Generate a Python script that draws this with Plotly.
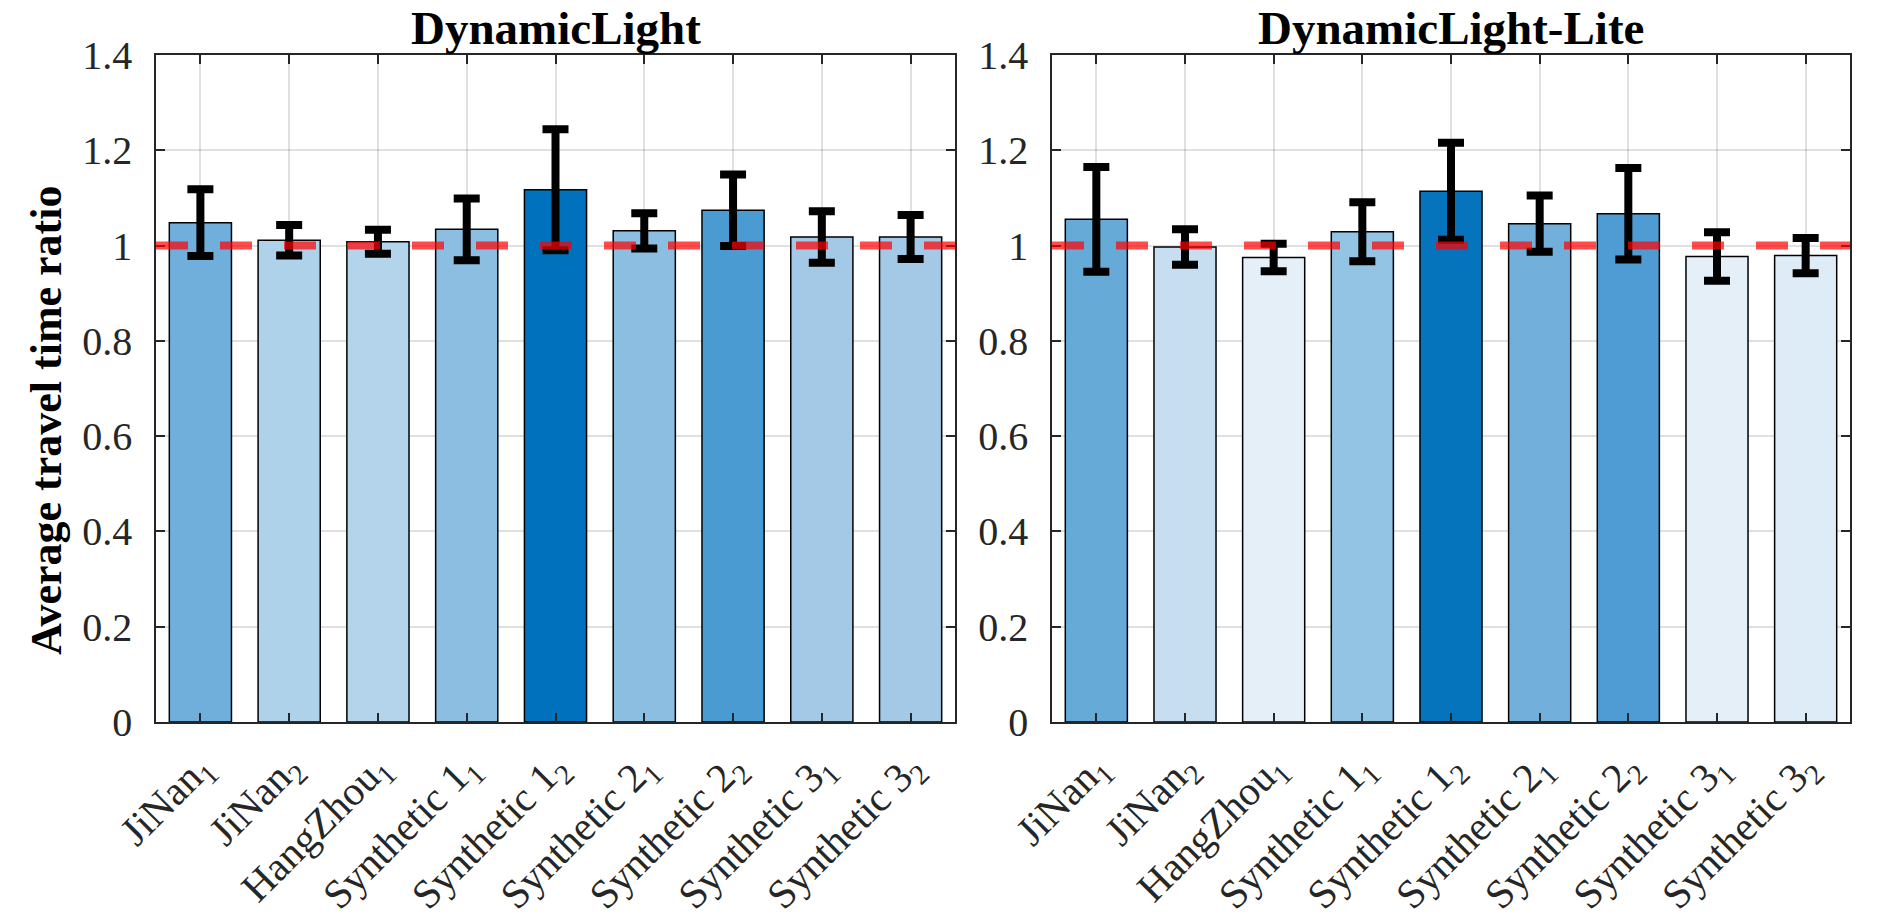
import plotly.graph_objects as go

categories = ["JiNan<sub>1</sub>", "JiNan<sub>2</sub>", "HangZhou<sub>1</sub>",
              "Synthetic 1<sub>1</sub>", "Synthetic 1<sub>2</sub>",
              "Synthetic 2<sub>1</sub>", "Synthetic 2<sub>2</sub>",
              "Synthetic 3<sub>1</sub>", "Synthetic 3<sub>2</sub>"]

dl_mean = [1.048, 1.011, 1.008, 1.034, 1.117, 1.031, 1.074, 1.018, 1.018]
dl_err = [0.070, 0.032, 0.025, 0.065, 0.127, 0.037, 0.075, 0.054, 0.046]

lite_mean = [1.055, 0.997, 0.975, 1.029, 1.114, 1.046, 1.067, 0.977, 0.979]
lite_err = [0.110, 0.037, 0.029, 0.062, 0.102, 0.059, 0.096, 0.051, 0.037]

titles = ["DynamicLight", "DynamicLight-Lite"]
y_label = "Average travel time ratio"
y_ticks = [0, 0.2, 0.4, 0.6, 0.8, 1.0, 1.2, 1.4]
baseline = 1.0

dl_colors = ["#70AFDB", "#AED2EA", "#B3D4EB", "#8BBEE0", "#0072BD",
             "#8BBEE0", "#4A9BD2", "#A3C9E6", "#A3C9E6"]
lite_colors = ["#66AAD8", "#C6DEF0", "#E4EFF8", "#93C4E4", "#0673BD",
               "#72B0DB", "#4E9CD3", "#E4EFF8", "#DEECF7"]

W, H = 1880, 920
FONT = "Liberation Serif"

fig = go.Figure()

panels = [
    (dl_mean, dl_err, dl_colors, "x", "y", (156, 955)),
    (lite_mean, lite_err, lite_colors, "x2", "y2", (1052, 1850)),
]
plot_top, plot_bot = 55, 722

for i, (m, e, c, xa, ya, (xl, xr)) in enumerate(panels):
    fig.add_trace(go.Bar(
        x=categories, y=m, xaxis=xa, yaxis=ya,
        marker=dict(color=c, line=dict(color="black", width=1.5)),
        error_y=dict(type="data", array=e, color="black", thickness=8, width=13),
        showlegend=False,
    ))
    sfx = "" if i == 0 else "2"
    dom_x = [xl / W, xr / W]
    dom_y = [(H - plot_bot) / H, (H - plot_top) / H]
    fig.layout["xaxis" + sfx] = dict(
        domain=dom_x, anchor=ya, type="category", automargin=False,
        range=[-0.5, len(categories) - 0.5],
        tickangle=-45, tickfont=dict(family=FONT, size=41, color="#262626"),
        ticks="inside", ticklen=9, tickwidth=1.5, tickcolor="#262626",
        showline=True, linecolor="#262626", linewidth=1.5, mirror="ticks",
        showgrid=True, gridcolor="rgba(0,0,0,0.12)", gridwidth=1.5,
        ticklabelstandoff=3,
    )
    fig.layout["yaxis" + sfx] = dict(
        domain=dom_y, anchor=xa, range=[0, 1.4], automargin=False,
        tickvals=y_ticks, ticktext=[f"{v:g}" for v in y_ticks],
        tickfont=dict(family=FONT, size=40, color="#262626"),
        ticks="inside", ticklen=9, tickwidth=1.5, tickcolor="#262626",
        showline=True, linecolor="#262626", linewidth=1.5, mirror="ticks",
        showgrid=True, gridcolor="rgba(0,0,0,0.12)", gridwidth=1.5,
        zeroline=False, ticklabelstandoff=14,
    )
    fig.add_shape(type="line", xref=xa + " domain", yref=ya,
                  x0=0, x1=1, y0=baseline, y1=baseline, layer="above",
                  line=dict(color="rgba(255,0,0,0.7)", width=8, dash="32px,32px"))
    fig.add_annotation(text=f"<b>{titles[i]}</b>", xref="paper", yref="paper",
                       x=(xl + xr) / 2 / W, y=(H - 28) / H, xanchor="center", yanchor="middle",
                       showarrow=False, font=dict(family=FONT, size=47, color="black"))

fig.add_annotation(text=f"<b>{y_label}</b>", xref="paper", yref="paper",
                   x=46 / W, y=(H - 420) / H, xanchor="center", yanchor="middle",
                   textangle=-90, showarrow=False,
                   font=dict(family=FONT, size=44, color="black"))

fig.update_layout(
    width=W, height=H, margin=dict(l=0, r=0, t=0, b=0),
    paper_bgcolor="white", plot_bgcolor="white", bargap=0.3,
)

fig.write_html("out.html", config={"displayModeBar": False},
               post_script="document.body.style.margin='0px';document.body.style.overflow='hidden';")
